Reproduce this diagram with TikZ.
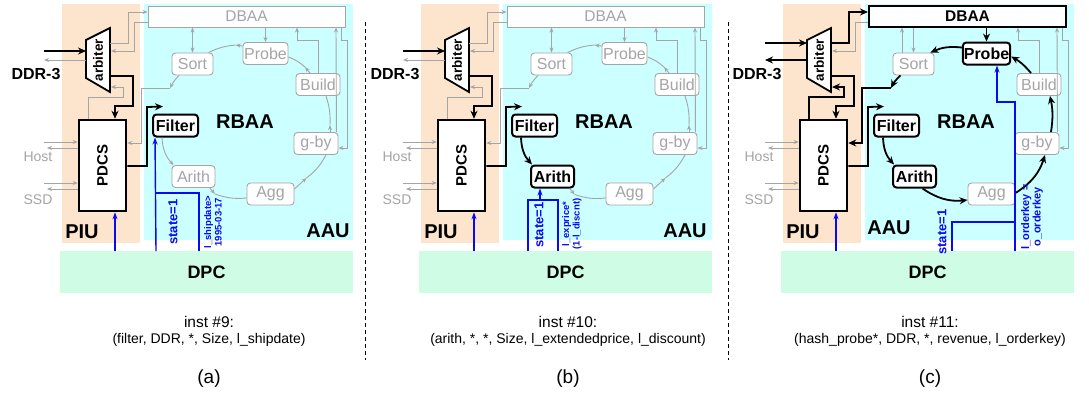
\documentclass[tikz,border=0pt]{standalone}
\usepackage{fontspec}
\usepackage{graphicx}
\setmainfont{Liberation Sans}
\usetikzlibrary{arrows.meta,positioning,calc}
\definecolor{piuorange}{RGB}{253,228,205}
\definecolor{aaucyan}{RGB}{204,255,255}
\definecolor{dpcgreen}{RGB}{206,252,228}
\definecolor{wiregray}{RGB}{165,165,165}
\definecolor{sigblue}{RGB}{10,10,240}
\newcommand{\fs}[2]{\fontsize{#1}{#2}\selectfont}

\begin{document}
\begin{tikzpicture}[x=1pt, y=-1pt,
    gbox/.style={rectangle, rounded corners=3.5pt, draw=wiregray, line width=0.9pt, fill=white, text=wiregray, inner sep=1pt, minimum height=22pt, font=\fs{16}{19}},
    bbox/.style={gbox, draw=black, line width=2pt, text=black, font=\bfseries\fs{16}{19}},
    gwire/.style={draw=wiregray, line width=0.9pt, >={Stealth[length=5pt,width=4pt]}, ->},
    gline/.style={draw=wiregray, line width=0.9pt},
    bwire/.style={draw=black, line width=1.8pt, >={Stealth[length=8pt,width=7pt]}, ->},
    sig/.style={draw=sigblue, line width=1.4pt},
    sigarrow/.style={sig, >={Stealth[length=7pt,width=5pt]}, ->},
    sigtext/.style={text=sigblue, rotate=90, inner sep=0pt, font=\bfseries\fs{13}{15}},
    siglabel/.style={text=sigblue, rotate=90, align=center, inner sep=0pt, font=\bfseries\fs{9.5}{10.5}},
    area/.style={font=\bfseries\fs{20}{24}},
    gtext/.style={text=wiregray, font=\fs{14}{17}},
    pdcsbox/.style={draw, line width=2.5pt, fill=white, minimum width=47pt, minimum height=91pt, font=\bfseries\fs{15}{18}},
    dpcbox/.style={fill=dpcgreen, minimum width=293pt, minimum height=42pt, font=\bfseries\fs{18}{21}},
    splitline/.style={line width=0.9pt, dash pattern=on 4pt off 3pt}
  ]
  \fill[white] (0,0) rectangle (1089,392);
  \useasboundingbox (0,0) rectangle (1089,392);

  % common frame of the three panels
  \foreach \p/\dx/\w/\ar/\pr/\ddr/\ax/\ay/\nr/\tup in {%
      a/0/gwire/gbox/gbox/51/328/231/9/{(filter, DDR, *, Size, l\_shipdate)},%
      b/359/gwire/bbox/gbox/51/326/231/10/{(arith, *, *, Size, l\_extendedprice, l\_discount)},%
      c/721/bwire/bbox/bbox/43/168/228/11/{(hash\_probe*, DDR, *, revenue, l\_orderkey)}}{
  \begin{scope}[shift={(\dx,0)}, name prefix=\p-]
    \fill[piuorange] (62,4) rectangle (140,243);
    \fill[aaucyan] (144,4) rectangle (353,240);
    \node[dpcbox] (dpc) at (206.5,272) {DPC};
    \node[area] (piu) at (82,232) {PIU};
    \node[area] (aau) at (\ax,\ay) {AAU};
    \node[area] (rbaa) at (245,122) {RBAA};
    \node[\pr, rounded corners=0pt, minimum width=197pt, minimum height=21pt] (dbaa) at (246.5,16.5) {\fs{15.5}{18}DBAA};
    \node[pdcsbox] (pdcs) at (102.5,165.5) {\rotatebox{90}{PDCS}};
    \draw[line width=1.8pt, fill=white] (86,40) -- (110,28) -- (110,92) -- (86,78) -- cycle;
    \node[rotate=90, font=\bfseries\fs{13.5}{16}] (arb) at (98,60) {arbiter};
    \node[font=\bfseries\fs{16}{19}] (ddr) at (36,74) {DDR-3};
    \node[gtext] (host) at (38,157) {Host};
    \node[gtext] (ssd) at (38,200) {SSD};
    % ring of RBAA units
    \node[gbox, minimum width=41pt] (sort) at (192.5,64) {Sort};
    \node[\pr, minimum width=45pt] (probe) at (265.5,53.5) {Probe};
    \node[gbox, minimum width=44pt] (build) at (318,84.5) {Build};
    \node[gbox, minimum width=44pt] (gby) at (316,143.5) {g-by};
    \node[gbox, minimum width=47pt] (agg) at (270.5,194) {Agg};
    \node[\ar, minimum width=43pt] (arith) at (193.5,176.5) {Arith};
    \node[bbox, minimum width=45pt] (filter) at (175.5,125.5) {Filter};
    % arbiter ports
    \coordinate (jn) at (170,88);
    \coordinate (arbin) at (86,\ddr);
    \coordinate (arbout) at (86,60);
    \coordinate (arbdb) at (110,43);
    \coordinate (arbpd) at (110,76);
    \draw[bwire] (44,\ddr) -- (arbin);
    \draw[\w] (arbout) -- (44,60);
    \draw[\w] (arbdb) -| (128,12) -- ([yshift=4.5pt]dbaa.west);
    \draw[gwire] ([yshift=-5.5pt]dbaa.west) -| (134,51) -- (111,51);
    \draw[bwire] (arbpd) -| (133,106) -| ([xshift=12.5pt]pdcs.north);
    \draw[\w] ([xshift=-14.5pt]pdcs.north) |- (123,97) |- (111,87);
    \draw[\w] (jn) -| (141,143) -- ([yshift=22.5pt]pdcs.east);
    \draw[bwire] ([yshift=-0.5pt]pdcs.east) -| (147,107) -- ([xshift=11pt,yshift=7pt]filter.north west);
    % host and ssd
    \draw[gwire] (44,142) -- ([yshift=23.5pt]pdcs.west);
    \draw[gwire] ([yshift=17.5pt]pdcs.west) -- (47,148);
    \draw[gwire] (44,183) -- ([yshift=-17.5pt]pdcs.west);
    \draw[gwire] ([yshift=-23.5pt]pdcs.west) -- (47,189);
    % DBAA taps
    \draw[\w] (probe.north |- dbaa.south) -- (probe.north);
    \draw[gwire] (build.north) |- (297,40) -- (297,27.5);
    \draw[gwire] ([xshift=-2pt]gby.north east) -- (336,27.5);
    \draw[gwire] (341,27.5) |- (347,40) |- ([yshift=-4.5pt]gby.east);
    \draw[sigarrow] (115,251) -- ([xshift=12.5pt]pdcs.south);
    % caption
    \node[font=\fs{15.5}{18}] (inst) at (209,322) {inst \#\nr:};
    \node[font=\fs{14}{17}] (tuple) at (209,340) {\tup};
    \node[font=\fs{19}{22}] (cap) at (209,379) {(\p)};
  \end{scope}}

  \draw[splitline] (365,22) -- (365,360);
  \draw[splitline] (728,22) -- (728,360);

  % idle ring in (a) and (b)
  \foreach \p/\dx in {a/0, b/359}{
  \begin{scope}[shift={(\dx,0)}, name prefix=\p-]
    \draw[gwire] (arith.-35) -- ++(5,6) coordinate (r1);
    \draw[gline] (r1) to[bend right=12] ([yshift=-4pt]agg.west);
    \draw[gwire] ([yshift=5pt]agg.east) -- ++(12,-11) coordinate (r2);
    \draw[gline] (r2) to[bend right=12] ([xshift=10pt]gby.south);
    \draw[gwire] ([xshift=14pt]gby.north) -- ++(0,-7) coordinate (r3);
    \draw[gline] (r3) to[bend right=10] ([xshift=8pt]build.south);
    \draw[gwire] ([xshift=-8pt]build.north) -- ++(-5,-6) coordinate (r4);
    \draw[gline] (r4) to[bend right=10] ([yshift=-3.5pt]probe.east);
    \draw[gwire] ([yshift=7.5pt]probe.west) -- ++(-7,-1) coordinate (r5);
    \draw[gline] (r5) to[bend right=10] ([xshift=-5pt]sort.north east);
    \draw[gwire] ([xshift=-13.5pt]sort.south) to[bend right=8] (jn);
    \draw[gwire, <->] (sort.north |- dbaa.south) -- (sort.north);
  \end{scope}}

  % (a) filter
  \draw[gwire] ([xshift=10pt]a-filter.south west) to[bend right=20] ([xshift=2pt]a-arith.north west);
  \begin{scope}[name prefix=a-]
    \draw[sigarrow] (156,251) -- ([xshift=3pt]filter.south west);
    \draw[sig] (156,193) -| (199,251);
    \node[sigtext] (st) at (173,222) {state=1};
    \node[siglabel] (cond) at (213,222) {l\_shipdate>\\1995-03-17};
  \end{scope}

  % (b) filter and arith
  \draw[bwire] ([xshift=10pt]b-filter.south west) to[bend right=20] ([xshift=2pt]b-arith.north west);
  \begin{scope}[shift={(359,0)}, name prefix=b-]
    \draw[sig] (169,251) |- (199,200) -- (199,251);
    \draw[sigarrow] (181,200) -- ([xshift=-12.5pt]arith.south);
    \node[sigtext] (st) at (180,225) {state=1};
    \node[siglabel] (cond) at (213,224) {l\_exprice*\\(1-l\_discnt)};
  \end{scope}

  % (c) hash probe
  \begin{scope}[shift={(721,0)}, name prefix=c-]
    \draw[bwire] ([xshift=10pt]filter.south west) to[bend right=20] ([xshift=2pt]arith.north west);
    \draw[bwire] ([xshift=8pt]arith.south) to[bend right=20] ([yshift=-6pt]agg.west);
    \draw[bwire] ([yshift=1pt]agg.east) to[bend right=20] ([xshift=8pt]gby.south);
    \draw[bwire] ([xshift=14pt]gby.north) to[bend right=10] ([xshift=11pt]build.south);
    \draw[bwire] ([xshift=-8pt]build.north) to[bend right=10] ([yshift=-3pt]probe.east);
    \draw[bwire] ([yshift=6pt]probe.west) to[bend right=15] ([xshift=-4pt]sort.north east);
    \draw[bwire] ([xshift=-13pt]sort.south) to[bend right=10] (jn);
    \draw[gwire] ([xshift=-11.5pt]sort.north) -- (181,27.5);
    \draw[gwire] (sort.north |- dbaa.south) -- (sort.north);
    \draw[sigarrow] (294,251) |- (276,102) -- ([xshift=10.5pt]probe.south);
    \draw[sig] (231,251) |- (294,222);
    \node[sigtext] (st) at (221,232) {state=1};
    \node[siglabel, font=\bfseries\fs{11}{11.5}] (cond) at (311,217) {l\_orderkey =\\o\_orderkey};
  \end{scope}
\end{tikzpicture}
\end{document}
